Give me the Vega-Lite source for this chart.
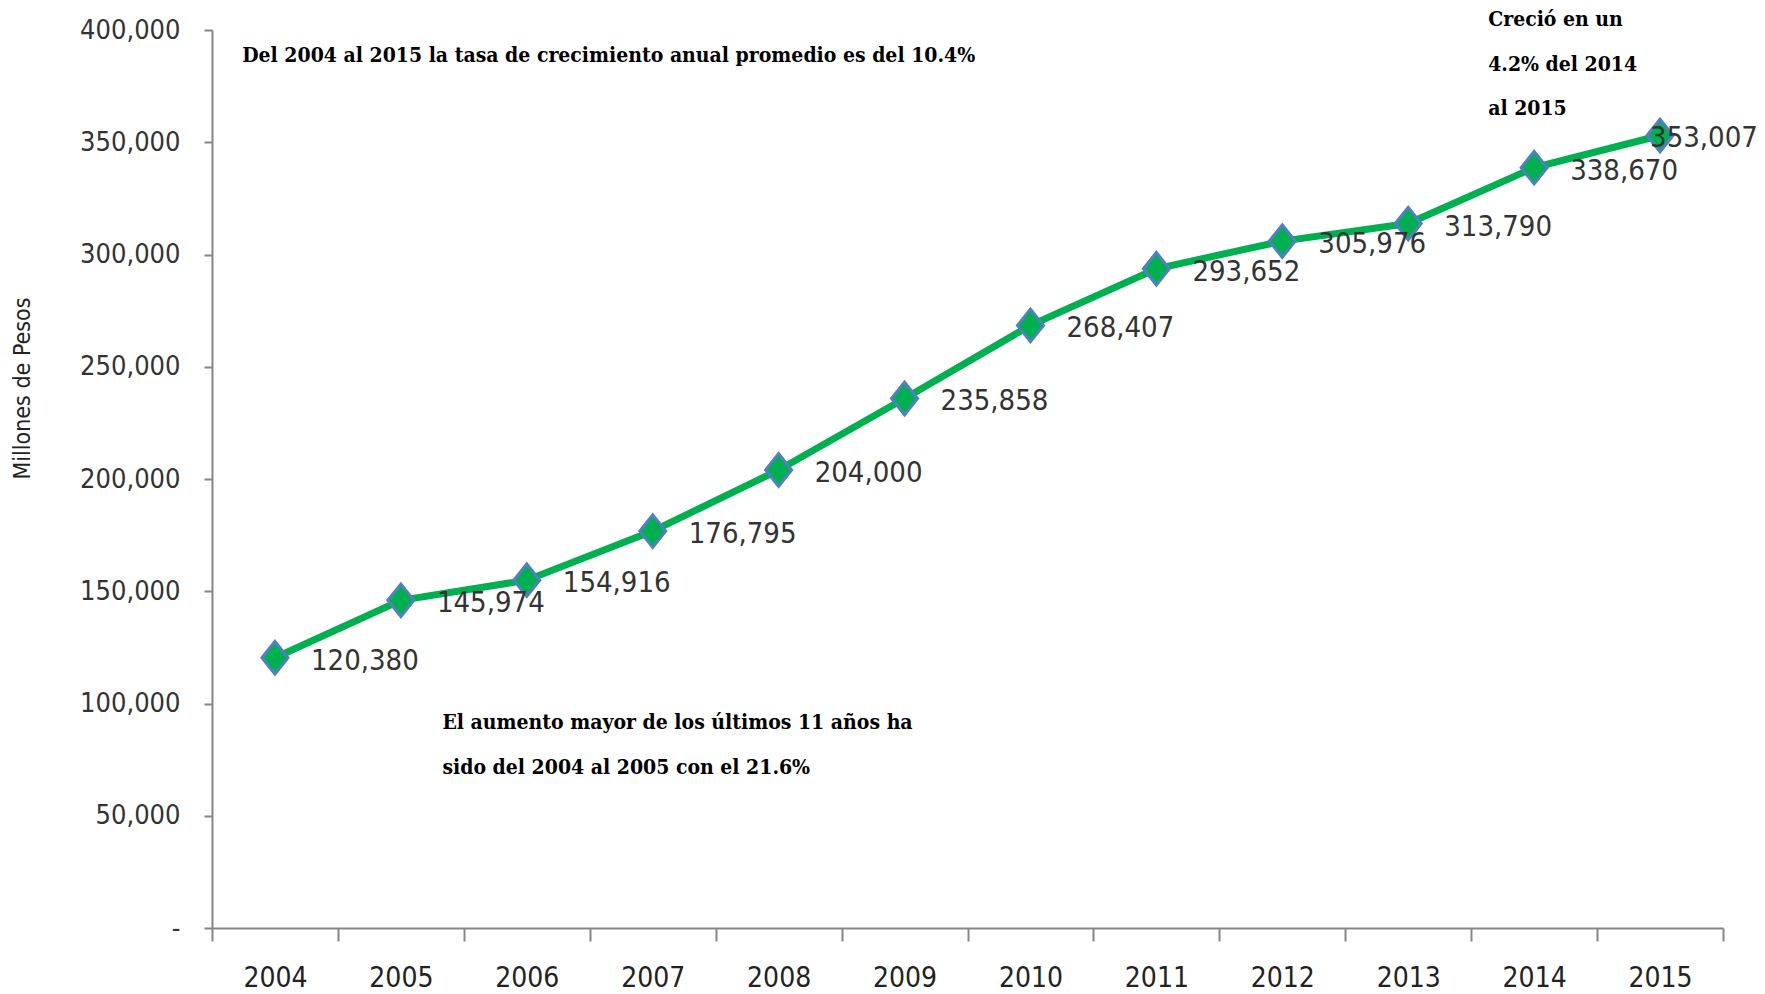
{
  "$schema": "https://vega.github.io/schema/vega-lite/v6.json",
  "width": 1511,
  "height": 898,
  "autosize": {"type": "none"},
  "padding": {"left": 212, "top": 30, "right": 42, "bottom": 66},
  "background": "white",
  "config": {"view": {"stroke": null}},
  "datasets": {
    "serie": [
      {"anio": "2004", "valor": 120380},
      {"anio": "2005", "valor": 145974},
      {"anio": "2006", "valor": 154916},
      {"anio": "2007", "valor": 176795},
      {"anio": "2008", "valor": 204000},
      {"anio": "2009", "valor": 235858},
      {"anio": "2010", "valor": 268407},
      {"anio": "2011", "valor": 293652},
      {"anio": "2012", "valor": 305976},
      {"anio": "2013", "valor": 313790},
      {"anio": "2014", "valor": 338670},
      {"anio": "2015", "valor": 353007}
    ],
    "notas": [
      {"grupo": "a", "anio": "2004", "valor": 388600, "texto": "Del 2004 al 2015 la tasa de crecimiento anual promedio es del 10.4%"},
      {"grupo": "b", "anio": "2014", "valor": 404600, "texto": "Creció en un"},
      {"grupo": "b", "anio": "2014", "valor": 384600, "texto": "4.2% del 2014"},
      {"grupo": "b", "anio": "2014", "valor": 365000, "texto": "al 2015"},
      {"grupo": "c", "anio": "2005", "valor": 91200, "texto": "El aumento mayor de los últimos 11 años ha"},
      {"grupo": "c", "anio": "2005", "valor": 71200, "texto": "sido del 2004 al 2005 con el 21.6%"}
    ]
  },
  "layer": [
    {
      "data": {"name": "serie"},
      "mark": {"type": "line", "color": "#00B050", "strokeWidth": 7},
      "encoding": {
        "x": {
          "field": "anio", "type": "ordinal",
          "scale": {"type": "band", "paddingInner": 0, "paddingOuter": 0},
          "axis": {
            "title": null, "labelAngle": 0, "tickBand": "extent", "tickSize": 13,
            "domainColor": "#868686", "tickColor": "#868686", "domainWidth": 2, "tickWidth": 2,
            "labelFont": "DejaVu Sans Condensed, sans-serif",
            "labelFontSize": 28, "labelColor": "#222222", "labelPadding": 23
          }
        },
        "y": {
          "field": "valor", "type": "quantitative",
          "scale": {"domain": [0, 400000], "nice": false},
          "axis": {
            "values": [0, 50000, 100000, 150000, 200000, 250000, 300000, 350000, 400000],
            "labelExpr": "datum.value == 0 ? '-' : format(datum.value, ',')",
            "grid": false, "tickSize": 8, "labelPadding": 24,
            "domainColor": "#868686", "tickColor": "#868686", "domainWidth": 2, "tickWidth": 2,
            "labelFont": "DejaVu Sans Condensed, sans-serif",
            "labelFontSize": 27, "labelColor": "#333333",
            "title": "Millones de Pesos",
            "titleFont": "DejaVu Sans Condensed, sans-serif",
            "titleFontSize": 23, "titleFontWeight": "normal", "titleColor": "#222222",
            "titleAngle": -90, "titleX": -190, "titleY": 358,
            "titleAlign": "center", "titleBaseline": "middle"
          }
        }
      }
    },
    {
      "data": {"name": "serie"},
      "mark": {
        "type": "point", "filled": true, "shape": "M-1,0L0,-1.25L1,0L0,1.25Z",
        "size": 676, "fill": "#00B050", "stroke": "#4F81BD", "strokeWidth": 3, "opacity": 1
      },
      "encoding": {
        "x": {"field": "anio", "type": "ordinal"},
        "y": {"field": "valor", "type": "quantitative"}
      }
    },
    {
      "data": {"name": "serie"},
      "transform": [{"filter": "datum.anio != '2015'"}],
      "mark": {
        "type": "text", "align": "left", "baseline": "middle", "dx": 36, "dy": 3,
        "font": "DejaVu Sans Condensed, sans-serif",
        "fontSize": 29, "color": "#333333"
      },
      "encoding": {
        "x": {"field": "anio", "type": "ordinal"},
        "y": {"field": "valor", "type": "quantitative"},
        "text": {"field": "valor", "type": "quantitative", "format": ","}
      }
    },
    {
      "data": {"name": "serie"},
      "transform": [{"filter": "datum.anio == '2015'"}],
      "mark": {
        "type": "text", "align": "left", "baseline": "middle", "dx": -10, "dy": 3,
        "font": "DejaVu Sans Condensed, sans-serif",
        "fontSize": 29, "color": "#333333"
      },
      "encoding": {
        "x": {"field": "anio", "type": "ordinal"},
        "y": {"field": "valor", "type": "quantitative"},
        "text": {"field": "valor", "type": "quantitative", "format": ","}
      }
    },
    {
      "data": {"name": "notas"},
      "transform": [{"filter": "datum.grupo == 'a'"}],
      "mark": {"type": "text", "align": "left", "baseline": "middle", "font": "DejaVu Serif Condensed, serif", "fontSize": 21, "fontWeight": "bold", "color": "#000000"},
      "encoding": {
        "x": {"field": "anio", "type": "ordinal", "bandPosition": 0.24},
        "y": {"field": "valor", "type": "quantitative"},
        "text": {"field": "texto"}
      }
    },
    {
      "data": {"name": "notas"},
      "transform": [{"filter": "datum.grupo == 'b'"}],
      "mark": {"type": "text", "align": "left", "baseline": "middle", "font": "DejaVu Serif Condensed, serif", "fontSize": 21, "fontWeight": "bold", "color": "#000000"},
      "encoding": {
        "x": {"field": "anio", "type": "ordinal", "bandPosition": 0.135},
        "y": {"field": "valor", "type": "quantitative"},
        "text": {"field": "texto"}
      }
    },
    {
      "data": {"name": "notas"},
      "transform": [{"filter": "datum.grupo == 'c'"}],
      "mark": {"type": "text", "align": "left", "baseline": "middle", "font": "DejaVu Serif Condensed, serif", "fontSize": 21, "fontWeight": "bold", "color": "#000000"},
      "encoding": {
        "x": {"field": "anio", "type": "ordinal", "bandPosition": 0.83},
        "y": {"field": "valor", "type": "quantitative"},
        "text": {"field": "texto"}
      }
    }
  ]
}
